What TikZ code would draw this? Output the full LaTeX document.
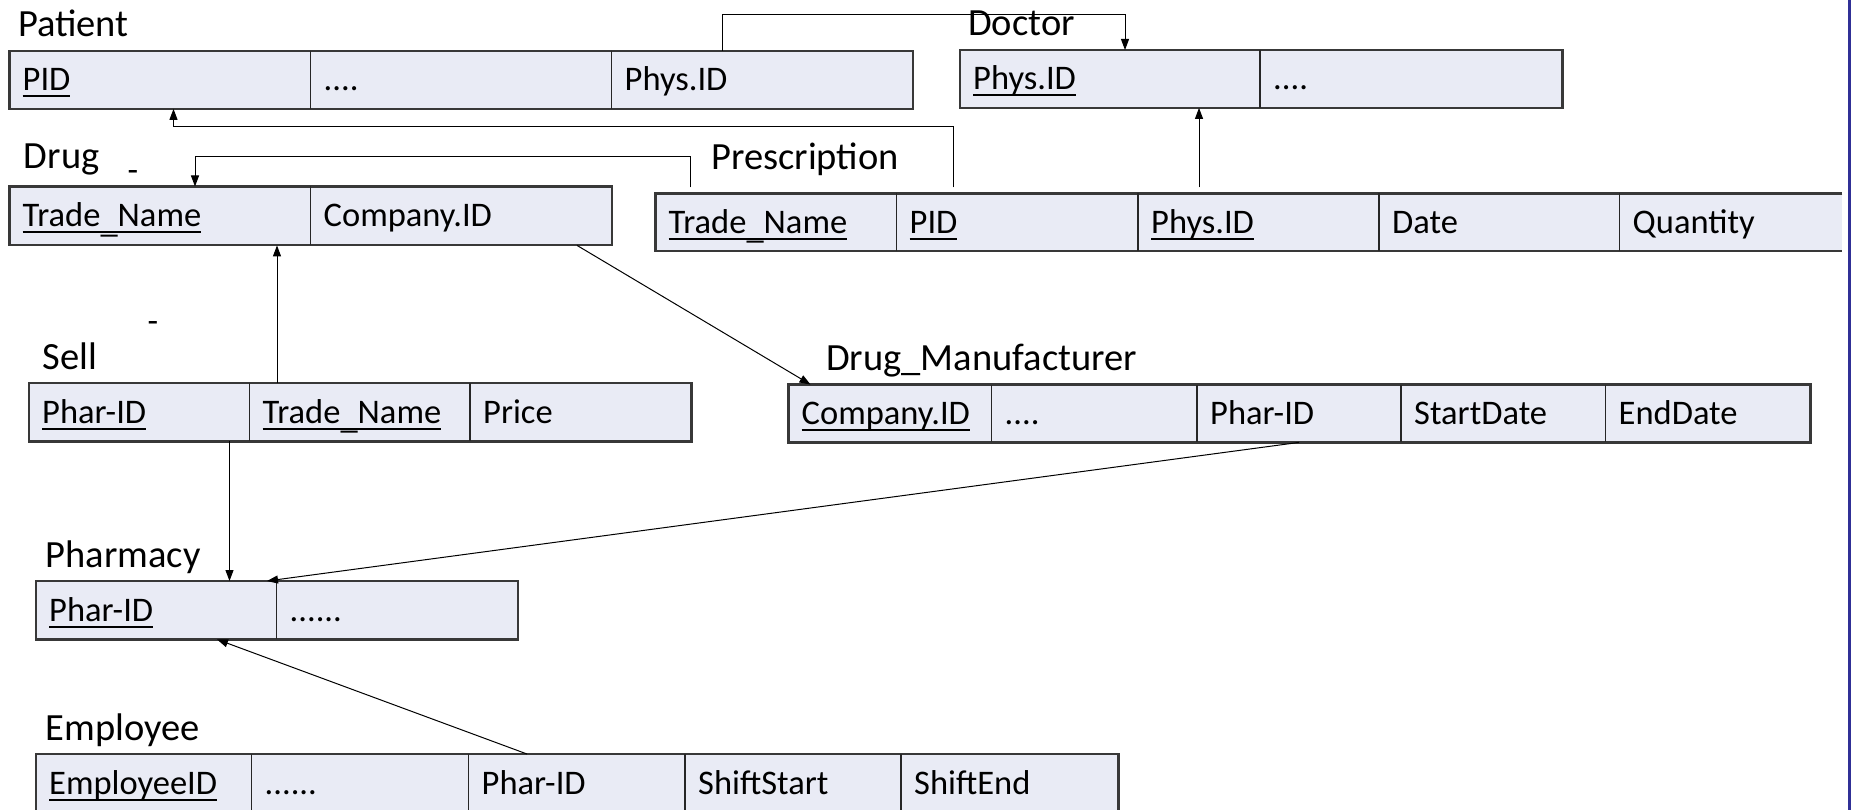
\documentclass[tikz,border=0pt]{standalone}
\usepackage{fontspec}
\setmainfont{Carlito}
\usetikzlibrary{arrows.meta}
\definecolor{cellfill}{RGB}{233,235,245}
\definecolor{stripe}{RGB}{48,48,150}
\newcommand\ukey[1]{\setbox0\hbox{#1}\rlap{\rule[-6.5pt]{\wd0}{2pt}}\box0}
\newcommand\lowus{\raisebox{-5.5pt}{\_}}
\begin{document}
\begin{tikzpicture}[x=1pt,y=-1pt,
  cell/.style={fill=cellfill, anchor=north west, minimum height=57.5pt, inner xsep=13pt, inner ysep=0pt,
    text height=29pt, text depth=7pt, align=left, font=\fontsize{34.5}{40}\selectfont},
  tlabel/.style={anchor=base west, inner sep=0pt, font=\fontsize{38.5}{46}\selectfont},
  dashmark/.style={anchor=base, inner sep=0pt, font=\fontsize{34.5}{40}\selectfont},
  outer/.style={draw=black!78, line width=2.2pt},
  sep/.style={draw=black!85, line width=1.3pt},
  conn/.style={draw=black, line width=1pt},
  arr/.style={conn, -{Triangle[length=11pt,width=8pt]}}
]
\useasboundingbox (0,0) rectangle (1851,810);

% ---------- labels ----------
\node[tlabel] (lpat)  at (17.8,36.5) {Patient};
\node[tlabel] (ldoc)  at (968,35.5) {Doctor};
\node[tlabel] (ldrug) at (23.7,168.5) {Drug};
\node[tlabel] (lpre)  at (711,170) {Prescription};
\node[tlabel] (lsell) at (42.7,369.5) {Sell};
\node[tlabel] (ldm)   at (826,370.5) {Drug\_Manufacturer};
\node[tlabel] (lph)   at (45.5,567.5) {Pharmacy};
\node[tlabel] (lemp)  at (45.5,740) {Employee};
\node[dashmark] (dash1) at (133,181.5) {-};
\node[dashmark] (dash2) at (153,332.5) {-};

% ---------- Patient ----------
\node[cell, text width=275pt] (pat1) at (9.5,51) {\ukey{PID}};
\node[cell, text width=275pt] (pat2) at (310.5,51) {....};
\node[cell, text width=275pt] (pat3) at (611.5,51) {Phys.ID};
\draw[outer] (pat1.north west) rectangle (pat3.south east);
\draw[sep] (pat2.north west) -- (pat2.south west);
\draw[sep] (pat3.north west) -- (pat3.south west);

% ---------- Doctor ----------
\node[cell, text width=274pt] (doc1) at (960,50) {\ukey{Phys.ID}};
\node[cell, text width=276pt] (doc2) at (1260,50) {....};
\draw[outer] (doc1.north west) rectangle (doc2.south east);
\draw[sep] (doc2.north west) -- (doc2.south west);

% ---------- Drug ----------
\node[cell, text width=275pt, minimum height=58.5pt] (drug1) at (9.5,186.5) {\ukey{Trade\lowus Name}};
\node[cell, text width=275pt, minimum height=58.5pt] (drug2) at (310.5,186.5) {Company.ID};
\draw[outer] (drug1.north west) rectangle (drug2.south east);
\draw[sep] (drug2.north west) -- (drug2.south west);

% ---------- Prescription ----------
\node[cell, text width=215pt]   (pre1) at (655.5,193.5) {\ukey{Trade\lowus Name}};
\node[cell, text width=215.5pt] (pre2) at (896.5,193.5) {\ukey{PID}};
\node[cell, text width=215pt]   (pre3) at (1138,193.5) {\ukey{Phys.ID}};
\node[cell, text width=214.5pt] (pre4) at (1379,193.5) {Date};
\node[cell, text width=196.5pt] (pre5) at (1619.5,193.5) {Quantity};
\draw[outer] (pre5.north east) -- (pre1.north west) -- (pre1.south west) -- (pre5.south east);
\foreach \c in {pre2,pre3,pre4,pre5} \draw[sep] (\c.north west) -- (\c.south west);

% ---------- Sell ----------
\node[cell, text width=194.5pt, minimum height=58pt] (sell1) at (29,383) {\ukey{Phar-ID}};
\node[cell, text width=194.5pt, minimum height=58pt] (sell2) at (249.5,383) {\ukey{Trade\lowus Name}};
\node[cell, text width=195pt, minimum height=58pt]   (sell3) at (470,383) {Price};
\draw[outer] (sell1.north west) rectangle (sell3.south east);
\foreach \c in {sell2,sell3} \draw[sep] (\c.north west) -- (\c.south west);

% ---------- Drug_Manufacturer ----------
\node[cell, text width=177pt]   (dm1) at (788.5,384.5) {\ukey{Company.ID}};
\node[cell, text width=179.5pt] (dm2) at (991.5,384.5) {....};
\node[cell, text width=178pt]   (dm3) at (1197,384.5) {Phar-ID};
\node[cell, text width=178.5pt] (dm4) at (1401,384.5) {StartDate};
\node[cell, text width=178.5pt] (dm5) at (1605.5,384.5) {EndDate};
\draw[outer] (dm1.north west) rectangle (dm5.south east);
\foreach \c in {dm2,dm3,dm4,dm5} \draw[sep] (\c.north west) -- (\c.south west);

% ---------- Pharmacy ----------
\node[cell, text width=214.5pt, minimum height=58pt] (ph1) at (36,581) {\ukey{Phar-ID}};
\node[cell, text width=215pt, minimum height=58pt]   (ph2) at (276.5,581) {......};
\draw[outer] (ph1.north west) rectangle (ph2.south east);
\draw[sep] (ph2.north west) -- (ph2.south west);

% ---------- Employee ----------
\node[cell, text width=189.5pt, minimum height=58pt] (emp1) at (36,754) {\ukey{EmployeeID}};
\node[cell, text width=191pt, minimum height=58pt]   (emp2) at (251.5,754) {......};
\node[cell, text width=190.5pt, minimum height=58pt] (emp3) at (468.5,754) {Phar-ID};
\node[cell, text width=190pt, minimum height=58pt]   (emp4) at (685,754) {ShiftStart};
\node[cell, text width=191pt, minimum height=58pt]   (emp5) at (901,754) {ShiftEnd};
\draw[outer] (emp1.north west) rectangle (emp5.south east);
\foreach \c in {emp2,emp3,emp4,emp5} \draw[sep] (\c.north west) -- (\c.south west);

% ---------- connectors ----------
\draw[arr] ([xshift=110.5pt]pat3.north west) -- ++(0,-36) -| ([xshift=165pt]doc1.north west);
\draw[arr] ([xshift=56.5pt,yshift=6pt]pre2.north west) -- ++(0,-61) -| ([xshift=164pt]pat1.south west);
\draw[arr] ([xshift=35pt,yshift=6pt]pre1.north west) -- ++(0,-31) -| ([xshift=185.5pt]drug1.north west);
\draw[arr] ([xshift=61pt,yshift=6pt]pre3.north west) -- ([xshift=239pt]doc1.south west);
\draw[arr] ([xshift=266.5pt]drug2.south west) -- ([xshift=22pt]dm1.north west);
\draw[arr] ([xshift=27.5pt]sell2.north west) -- ([xshift=267.5pt]drug1.south west);
\draw[arr] ([xshift=200.5pt]sell1.south west) -- ([xshift=193.5pt]ph1.north west);
\draw[arr] ([xshift=102pt]dm3.south west) -- ([xshift=231pt]ph1.north west);
\draw[arr] ([xshift=58.5pt]emp3.north west) -- ([xshift=181pt]ph1.south west);

% ---------- right edge stripe ----------
\fill[stripe] (1848,0) rectangle (1851,810);
\end{tikzpicture}
\end{document}
